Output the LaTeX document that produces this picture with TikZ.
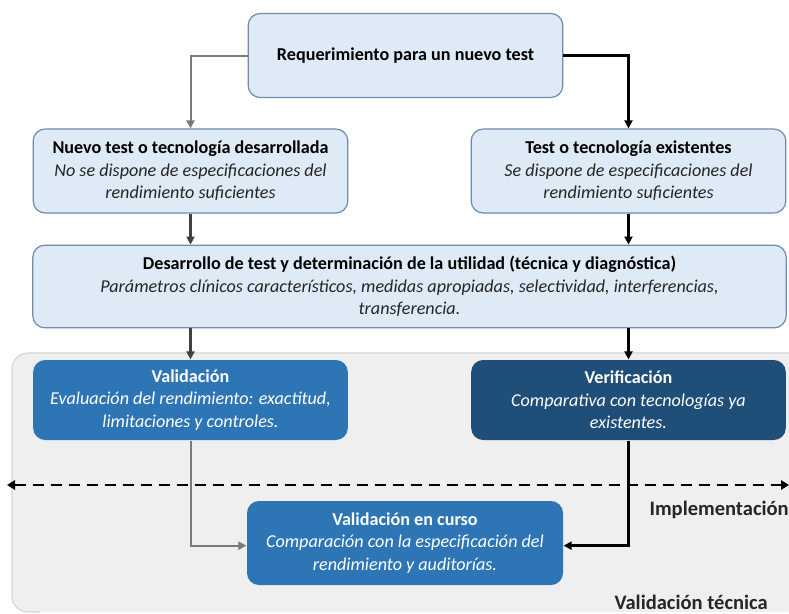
\documentclass[tikz,border=0pt]{standalone}
\usepackage{fontspec}
\setmainfont{Carlito}
\usetikzlibrary{arrows.meta,positioning}
\definecolor{lightfill}{HTML}{DEEBF7}
\definecolor{lightedge}{HTML}{6F8BAD}
\definecolor{midblue}{HTML}{2E75B6}
\definecolor{darkblue}{HTML}{1F4E79}
\definecolor{zonefill}{HTML}{EFEFEF}
\definecolor{zoneedge}{HTML}{D4D4D4}
\definecolor{subtext}{HTML}{262626}
\tikzset{
  px/.style={x=0.75pt,y=-0.75pt},
  lightbox/.style={draw=lightedge,line width=0.9pt,fill=lightfill,rounded corners=9pt,
    minimum width=236pt,minimum height=63pt,align=center,inner sep=0pt,
    font=\fontsize{13.6}{16.9}\selectfont},
  bluebox/.style={lightbox,draw=none,fill=midblue,text=white,minimum height=60pt},
  navybox/.style={bluebox,fill=darkblue},
  tip/.style={-{Triangle[length=6pt,width=6pt]}},
  grayflow/.style={draw=black!52,line width=1.5pt,tip},
  darkflow/.style={draw=black!75,line width=1.8pt,tip},
  blackflow/.style={draw=black,line width=1.8pt,tip},
  zonelabel/.style={font=\fontsize{15.4}{18}\selectfont\bfseries,anchor=east,inner sep=0pt,text=black!85}
}
\begin{document}
\begin{tikzpicture}[px]
\useasboundingbox (0,0) rectangle (789,614);
% technical-validation zone, open to the right
\fill[zonefill,rounded corners=12pt] (12,353) -- (800,353) -- (800,612) -- (12,612) -- cycle;
\draw[zoneedge,line width=0.8pt,rounded corners=12pt] (789,353) -- (12,353) -- (12,612) -- (40,612);

% flow boxes
\node[lightbox,minimum width=236pt] (req) at (405.5,55.5) {\textbf{Requerimiento para un nuevo test}};
\node[lightbox] (new) at (190.5,171) {\textbf{Nuevo test o tecnología desarrollada}\\{\color{subtext}\itshape No se dispone de especificaciones del}\\{\color{subtext}\itshape rendimiento suficientes}};
\node[lightbox] (old) at (628.5,171) {\textbf{Test o tecnología existentes}\\{\color{subtext}\itshape Se dispone de especificaciones del}\\{\color{subtext}\itshape rendimiento suficientes}};
\node[lightbox,minimum width=565pt,minimum height=62pt] (dev) at (409.5,286.5) {\textbf{Desarrollo de test y determinación de la utilidad (técnica y diagnóstica)}\\{\color{subtext}\itshape Parámetros clínicos característicos, medidas apropiadas, selectividad, interferencias,}\\{\color{subtext}\itshape transferencia.}};
\node[bluebox] (val) at (190.5,400) {\textbf{Validación}\\{\itshape Evaluación del rendimiento: exactitud,}\\{\itshape limitaciones y controles.}};
\node[navybox] (ver) at (628.5,400) {\textbf{Verificación}\\{\itshape Comparativa con tecnologías ya}\\{\itshape existentes.}};
\node[bluebox,minimum width=237pt,minimum height=63pt] (cur) at (405,543) {\textbf{Validación en curso}\\{\itshape Comparación con la especificación del}\\{\itshape rendimiento y auditorías.}};

% implementation boundary
\coordinate (bl) at (7,485);
\coordinate (br) at (789,485);
\draw[line width=2pt,dash pattern=on 8.5pt off 5pt,{Triangle[length=6pt,width=7pt]}-{Triangle[length=6pt,width=7pt]}] (bl) -- (br);

% zone labels
\node[zonelabel] (impl) at (789,510) {Implementación};
\node[zonelabel] (tech) at (768,602) {Validación técnica};

% connectors
\draw[grayflow] (req.west) -| (new.north);
\draw[blackflow] (req.east) -| (old.north);
\draw[darkflow] (new.south) -- (new.south |- dev.north);
\draw[blackflow] (old.south) -- (old.south |- dev.north);
\draw[darkflow] (new.south |- dev.south) -- (val.north);
\draw[blackflow] (old.south |- dev.south) -- (ver.north);
\draw[grayflow] (val.south) |- ([yshift=-2pt]cur.west);
\draw[blackflow] (ver.south) |- ([yshift=-2pt]cur.east);
\end{tikzpicture}
\end{document}
